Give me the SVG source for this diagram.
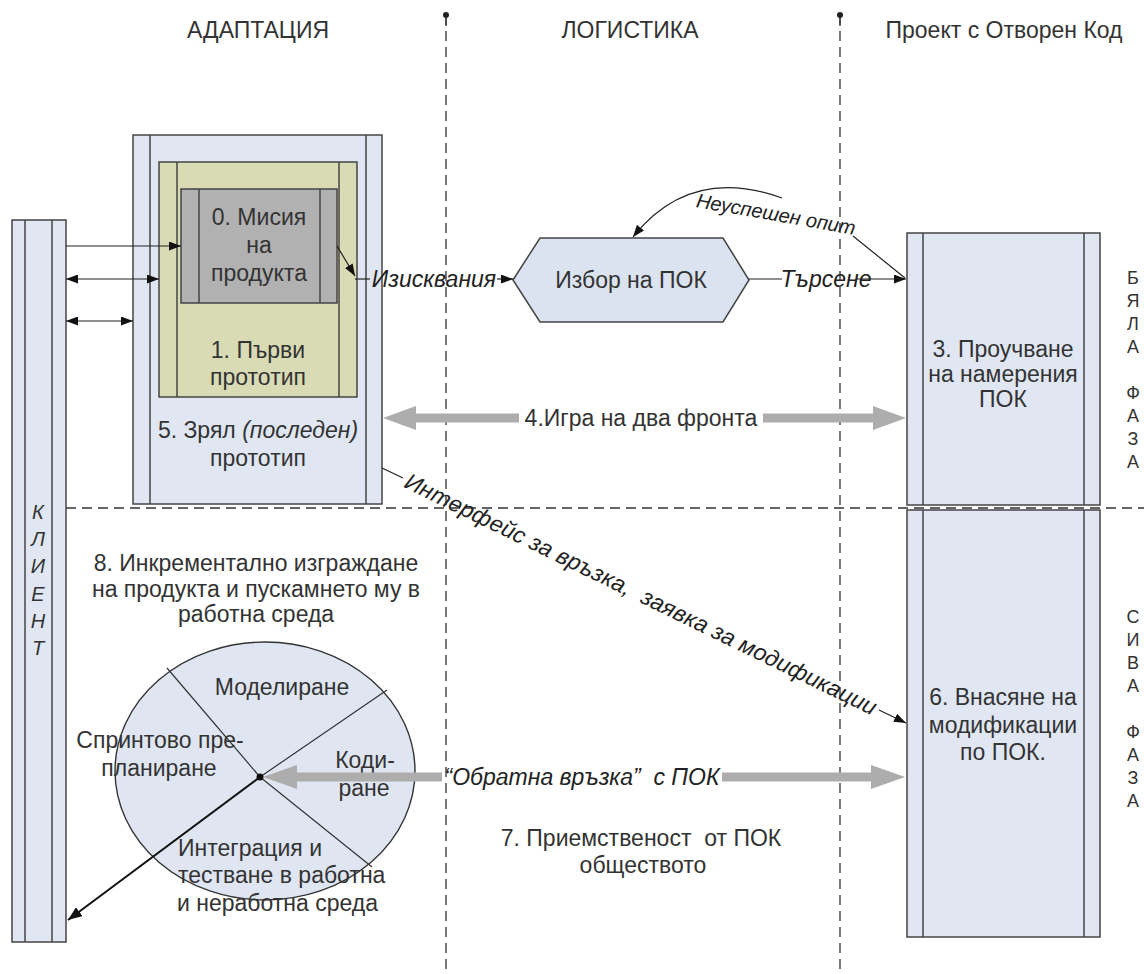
<svg xmlns="http://www.w3.org/2000/svg" width="1144" height="974" viewBox="0 0 1144 974">
<defs>
<style>
.t{font-family:"Liberation Sans",Arial,sans-serif;font-size:23px;fill:#333;text-anchor:middle;dominant-baseline:central}
.lbl{font-family:"Liberation Sans",Arial,sans-serif;font-size:23px;fill:#222;font-style:italic;text-anchor:middle;dominant-baseline:central}
.side{font-family:"Liberation Sans",Arial,sans-serif;font-size:18px;fill:#333;text-anchor:middle;dominant-baseline:central}
.cli{font-family:"Liberation Sans",Arial,sans-serif;font-size:20px;fill:#333;font-style:italic;text-anchor:middle;dominant-baseline:central}
.proc{fill:#e0e7f3;stroke:#444;stroke-width:1.5}
.strip{stroke:#444;stroke-width:1.5;fill:none}
.lane{stroke:#333;stroke-width:1.3;stroke-dasharray:10 6;fill:none}
.conn{stroke:#222;stroke-width:1.2;fill:none}
.big{stroke:#adadad;stroke-width:9;fill:none}
.bighead{fill:#adadad}
.ray{stroke:#333;stroke-width:1.2;fill:none}
</style>
<marker id="ah" markerUnits="userSpaceOnUse" markerWidth="13" markerHeight="9" refX="12" refY="4.5" orient="auto-start-reverse">
<path d="M0,0 L12,4.5 L0,9 z" fill="#111"/>
</marker>
<marker id="ahBig" markerUnits="userSpaceOnUse" markerWidth="15" markerHeight="11" refX="14" refY="5.5" orient="auto">
<path d="M0,0 L14,5.5 L0,11 z" fill="#111"/>
</marker>
</defs>
<rect width="1144" height="974" fill="#fff"/>

<!-- swimlane separators -->
<g id="lanes">
<line class="lane" x1="446" y1="15" x2="446" y2="974"/>
<line class="lane" x1="840" y1="15" x2="840" y2="974"/>
<line x1="446" y1="15" x2="446" y2="26" stroke="#333" stroke-width="1.3"/>
<line x1="840" y1="15" x2="840" y2="26" stroke="#333" stroke-width="1.3"/>
<circle cx="446" cy="15" r="3" fill="#222"/>
<circle cx="840" cy="15" r="3" fill="#222"/>
<line class="lane" x1="66" y1="508" x2="1144" y2="508"/>
<text class="t" x="258" y="30">АДАПТАЦИЯ</text>
<text class="t" x="630" y="30">ЛОГИСТИКА</text>
<text class="t" x="1004" y="30">Проект с Отворен Код</text>
</g>

<!-- lane-level captions -->
<g id="captions">
<text class="t" x="256" y="563">8. Инкрементално изграждане</text>
<text class="t" x="256" y="589">на продукта и пускамнето му в</text>
<text class="t" x="256" y="614">работна среда</text>
<text class="t" x="641" y="838" xml:space="preserve">7. Приемственост  от ПОК</text>
<text class="t" x="643" y="865">обществото</text>
</g>

<g id="client">
<rect class="proc" x="12" y="220" width="54" height="722"/>
<line class="strip" x1="25" y1="220" x2="25" y2="942"/>
<line class="strip" x1="52" y1="220" x2="52" y2="942"/>
<text class="cli" x="38" y="512">К</text>
<text class="cli" x="38" y="539">Л</text>
<text class="cli" x="38" y="566">И</text>
<text class="cli" x="38" y="594">Е</text>
<text class="cli" x="38" y="621">Н</text>
<text class="cli" x="38" y="648">Т</text>
</g>

<g id="mature-prototype">
<rect class="proc" x="133" y="135" width="249" height="369"/>
<line class="strip" x1="150" y1="135" x2="150" y2="504"/>
<line class="strip" x1="366" y1="135" x2="366" y2="504"/>
<text class="t" x="258" y="430">5. Зрял <tspan font-style="italic">(последен)</tspan></text>
<text class="t" x="258" y="458">прототип</text>
</g>

<g id="first-prototype">
<rect x="159" y="162" width="198" height="235" fill="#d8dbb4" stroke="#444" stroke-width="1.5"/>
<line class="strip" x1="177" y1="162" x2="177" y2="397"/>
<line class="strip" x1="339" y1="162" x2="339" y2="397"/>
<text class="t" x="258" y="350">1. Първи</text>
<text class="t" x="258" y="377">прототип</text>
</g>

<g id="mission">
<rect x="181" y="189" width="156" height="114" fill="#b1b1b1" stroke="#444" stroke-width="1.5"/>
<line class="strip" x1="199" y1="189" x2="199" y2="303"/>
<line class="strip" x1="320" y1="189" x2="320" y2="303"/>
<text class="t" x="259" y="217">0. Мисия</text>
<text class="t" x="259" y="245">на</text>
<text class="t" x="259" y="273">продукта</text>
</g>

<g id="choose-oss">
<polygon points="513,280 540,238 723,238 749,280 723,322 540,322" fill="#dce3f0" stroke="#444" stroke-width="1.5"/>
<text class="t" x="631" y="280">Избор на ПОК</text>
</g>

<g id="study-oss">
<rect class="proc" x="907" y="233" width="193" height="272"/>
<line class="strip" x1="923" y1="233" x2="923" y2="505"/>
<line class="strip" x1="1084" y1="233" x2="1084" y2="505"/>
<text class="t" x="1003" y="349">3. Проучване</text>
<text class="t" x="1003" y="374">на намерения</text>
<text class="t" x="1003" y="399">ПОК</text>
</g>

<g id="modify-oss">
<rect class="proc" x="907" y="510" width="193" height="427"/>
<line class="strip" x1="923" y1="510" x2="923" y2="937"/>
<line class="strip" x1="1084" y1="510" x2="1084" y2="937"/>
<text class="t" x="1003" y="697">6. Внасяне на</text>
<text class="t" x="1003" y="725">модификации</text>
<text class="t" x="1003" y="752">по ПОК.</text>
</g>

<g id="phase-white">
<text class="side" x="1133" y="278">Б</text>
<text class="side" x="1133" y="301">Я</text>
<text class="side" x="1133" y="324">Л</text>
<text class="side" x="1133" y="347">А</text>
<text class="side" x="1133" y="393">Ф</text>
<text class="side" x="1133" y="416">А</text>
<text class="side" x="1133" y="439">З</text>
<text class="side" x="1133" y="462">А</text>
</g>

<g id="phase-grey">
<text class="side" x="1133" y="617">С</text>
<text class="side" x="1133" y="640">И</text>
<text class="side" x="1133" y="663">В</text>
<text class="side" x="1133" y="686">А</text>
<text class="side" x="1133" y="732">Ф</text>
<text class="side" x="1133" y="755">А</text>
<text class="side" x="1133" y="778">З</text>
<text class="side" x="1133" y="801">А</text>
</g>

<g id="sprint-cycle">
<ellipse cx="265" cy="771" rx="150" ry="129" fill="#dfe6f2" stroke="#333" stroke-width="1.4"/>
<line class="ray" x1="260" y1="777" x2="167" y2="668"/>
<line class="ray" x1="260" y1="777" x2="387" y2="690"/>
<line class="ray" x1="260" y1="777" x2="372" y2="867"/>
<text class="t" x="282" y="687">Моделиране</text>
<text class="t" x="160" y="740">Спринтово пре-</text>
<text class="t" x="159" y="768">планиране</text>
<text class="t" x="365" y="760">Коди-</text>
<text class="t" x="364" y="788">ране</text>
<text class="t" x="178" y="848" style="text-anchor:start">Интеграция и</text>
<text class="t" x="178" y="875" style="text-anchor:start">тестване в работна</text>
<text class="t" x="177" y="903" style="text-anchor:start">и неработна среда</text>
</g>

<g id="connectors">
<line class="conn" x1="66" y1="246" x2="181" y2="246" marker-end="url(#ah)"/>
<line class="conn" x1="66" y1="279" x2="159" y2="279" marker-start="url(#ah)" marker-end="url(#ah)"/>
<line class="conn" x1="66" y1="321" x2="133" y2="321" marker-start="url(#ah)" marker-end="url(#ah)"/>

<path class="conn" d="M337,246 L355,276" marker-end="url(#ah)"/>
<line class="conn" x1="355" y1="279" x2="370" y2="279"/>
<text class="lbl" x="434" y="279">Изисквания</text>
<line class="conn" x1="497" y1="279" x2="513" y2="279" marker-end="url(#ah)"/>

<line class="conn" x1="749" y1="279" x2="782" y2="279"/>
<text class="lbl" x="826" y="279">Търсене</text>
<line class="conn" x1="856" y1="279" x2="906" y2="279" marker-end="url(#ah)"/>

<line class="conn" x1="905" y1="278" x2="853" y2="236"/>
<text class="lbl" x="776" y="214" transform="rotate(10 776 214)" style="font-size:20px">Неуспешен опит</text>
<path class="conn" d="M782,198 Q690,165 633,237" marker-end="url(#ah)"/>

<line class="big" x1="414" y1="418" x2="519" y2="418"/>
<line class="big" x1="763" y1="418" x2="875" y2="418"/>
<polygon class="bighead" points="383,418 416,406 416,430"/>
<polygon class="bighead" points="906,418 873,406 873,430"/>
<text class="t" x="641" y="418">4.Игра на два фронта</text>

<line class="conn" x1="382" y1="468" x2="403" y2="478"/>
<text class="lbl" x="641" y="594" transform="rotate(26 641 594)" textLength="522" lengthAdjust="spacing" xml:space="preserve">Интерфейс за връзка,  заявка за модификации</text>
<line class="conn" x1="879" y1="710" x2="906" y2="723" marker-end="url(#ah)"/>

<line class="big" x1="295" y1="777" x2="442" y2="777"/>
<line class="big" x1="722" y1="777" x2="873" y2="777"/>
<polygon class="bighead" points="263,777 297,765 297,789"/>
<polygon class="bighead" points="905,777 871,765 871,789"/>
<text class="lbl" x="582" y="777" xml:space="preserve">“Обратна връзка”  с ПОК</text>

<line x1="260" y1="777" x2="68" y2="920" stroke="#111" stroke-width="2" marker-end="url(#ahBig)"/>
<circle cx="260" cy="777" r="3.5" fill="#111"/>
</g>
</svg>
